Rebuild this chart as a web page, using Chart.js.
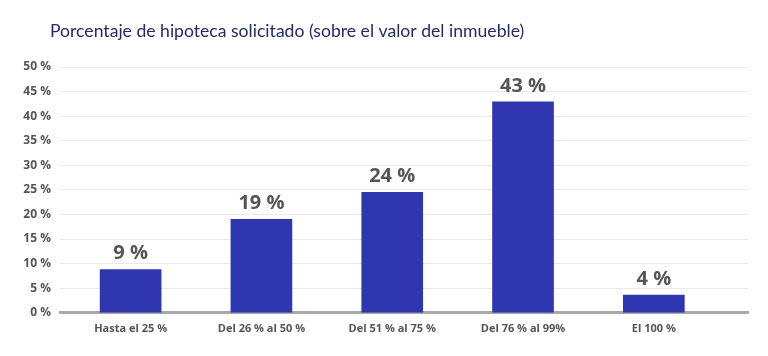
<!DOCTYPE html>
<html>
<head>
<meta charset="utf-8">
<script src="https://cdn.jsdelivr.net/npm/chart.js@4/dist/chart.umd.min.js"></script>
<style>
html,body{margin:0;padding:0;background:#fff;}
#wrap{width:768px;height:356px;position:relative;}
</style>
</head>
<body>
<div id="wrap"><canvas id="c" width="768" height="356"></canvas></div>
<script>
const chartTitle = 'Porcentaje de hipoteca solicitado (sobre el valor del inmueble)';
const categories = ['Hasta el 25 %', 'Del 26 % al 50 %', 'Del 51 % al 75 %', 'Del 76 % al 99%', 'El 100 %'];
const values = [8.8, 19, 24.5, 42.9, 3.6];
const valueLabels = ['9 %', '19 %', '24 %', '43 %', '4 %'];
const yTicksMax = 50;
const yTicksStep = 5;

const titlePlugin = {
  id: 'customTitle',
  afterDraw(chart) {
    const ctx = chart.ctx;
    ctx.save();
    ctx.font = '17.6px Lato';
    ctx.fillStyle = '#262a6b';
    ctx.textBaseline = 'middle';
    ctx.textAlign = 'left';
    ctx.fillText(chartTitle, 50, 31);
    ctx.restore();
  }
};

const valueLabelPlugin = {
  id: 'valueLabels',
  afterDatasetsDraw(chart) {
    const ctx = chart.ctx;
    const meta = chart.getDatasetMeta(0);
    ctx.save();
    ctx.font = 'bold 20px "Open Sans"';
    ctx.fillStyle = '#555555';
    ctx.textAlign = 'center';
    ctx.textBaseline = 'bottom';
    meta.data.forEach((bar, i) => {
      ctx.fillText(valueLabels[i], bar.x, bar.y - 6);
    });
    ctx.restore();
  }
};

new Chart(document.getElementById('c'), {
  type: 'bar',
  data: {
    datasets: [{
      data: values.map((v, i) => ({x: i, y: v})),
      backgroundColor: '#2e37b0',
      borderWidth: 0,
      barThickness: 61
    }]
  },
  options: {
    responsive: false,
    animation: false,
    layout: {padding: {top: 67, right: 20, bottom: 12, left: 0}},
    plugins: {legend: {display: false}, tooltip: {enabled: false}, title: {display: false}},
    scales: {
      x: {
        type: 'linear',
        offset: false,
        min: -0.54,
        max: 4.72,
        grid: {display: false, drawTicks: false},
        border: {display: true, color: '#a9a9a9', width: 3},
        ticks: {
          stepSize: 1,
          includeBounds: false,
          autoSkip: false,
          maxRotation: 0,
          padding: 9,
          color: '#555555',
          font: {family: '"Open Sans"', size: 11, weight: 'bold'},
          callback: (v) => Number.isInteger(v) && categories[v] !== undefined ? categories[v] : ''
        }
      },
      y: {
        min: 0,
        max: yTicksMax,
        grid: {color: '#e9e9e9', lineWidth: 1, drawTicks: false},
        border: {display: false},
        afterFit(scale) { scale.width = 60; },
        ticks: {
          stepSize: yTicksStep,
          padding: 9,
          color: '#555555',
          font: {family: '"Open Sans"', size: 12, weight: 'bold'},
          callback: (v) => v + ' %'
        }
      }
    }
  },
  plugins: [titlePlugin, valueLabelPlugin]
});
</script>
</body>
</html>
